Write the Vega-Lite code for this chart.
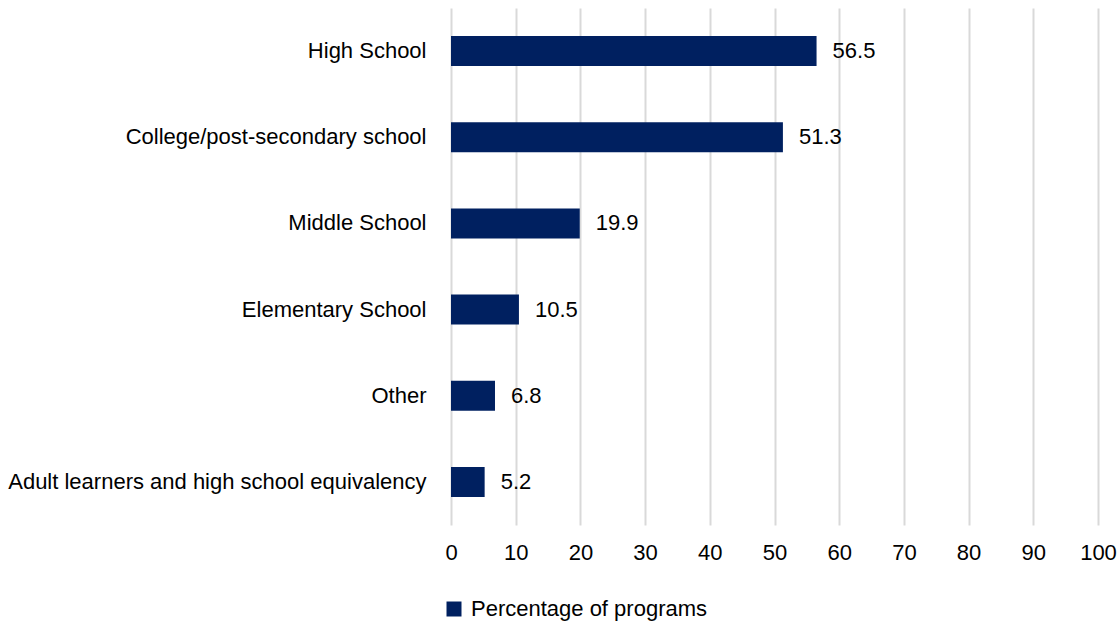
{
  "$schema": "https://vega.github.io/schema/vega-lite/v6.json",
  "autosize": {"type": "none"},
  "padding": {"left": 451, "top": 8, "right": 21, "bottom": 102},
  "width": 647,
  "height": 517,
  "background": "white",
  "config": {
    "font": "Liberation Sans",
    "view": {"stroke": null}
  },
  "data": {
    "values": [
      {"category": "High School", "value": 56.5, "series": "Percentage of programs"},
      {"category": "College/post-secondary school", "value": 51.3, "series": "Percentage of programs"},
      {"category": "Middle School", "value": 19.9, "series": "Percentage of programs"},
      {"category": "Elementary School", "value": 10.5, "series": "Percentage of programs"},
      {"category": "Other", "value": 6.8, "series": "Percentage of programs"},
      {"category": "Adult learners and high school equivalency", "value": 5.2, "series": "Percentage of programs"}
    ]
  },
  "encoding": {
    "y": {
      "field": "category", "type": "nominal", "sort": null,
      "scale": {"paddingInner": 0.652, "paddingOuter": 0.326},
      "axis": {"title": null, "domain": false, "ticks": false, "labelPadding": 25, "labelFontSize": 22, "labelColor": "#000000", "labelFont": "Liberation Sans", "labelLimit": 1000}
    },
    "x": {
      "field": "value", "type": "quantitative",
      "scale": {"domain": [0, 100], "nice": false},
      "axis": {"title": null, "values": [0,10,20,30,40,50,60,70,80,90,100], "domain": false, "ticks": false, "grid": true, "gridColor": "#d9d9d9", "gridWidth": 2, "labelPadding": 17, "labelFlush": false, "labelOverlap": false, "labelFontSize": 22, "labelColor": "#000000", "labelFont": "Liberation Sans"}
    }
  },
  "layer": [
    {
      "mark": {"type": "bar", "color": "#002060"},
      "encoding": {
        "color": {
          "field": "series", "type": "nominal",
          "scale": {"range": ["#002060"]},
          "legend": {"title": null, "orient": "none", "legendX": -8, "legendY": 590, "symbolType": "square", "symbolSize": 225, "symbolStrokeWidth": 0, "labelFontSize": 22, "labelLimit": 1000, "labelColor": "#000000", "labelFont": "Liberation Sans", "labelOffset": 6}
        }
      }
    },
    {
      "mark": {"type": "text", "align": "left", "dx": 16, "fontSize": 22, "color": "#000000", "font": "Liberation Sans"},
      "encoding": {"text": {"field": "value", "type": "quantitative", "format": ".1f"}}
    }
  ]
}
